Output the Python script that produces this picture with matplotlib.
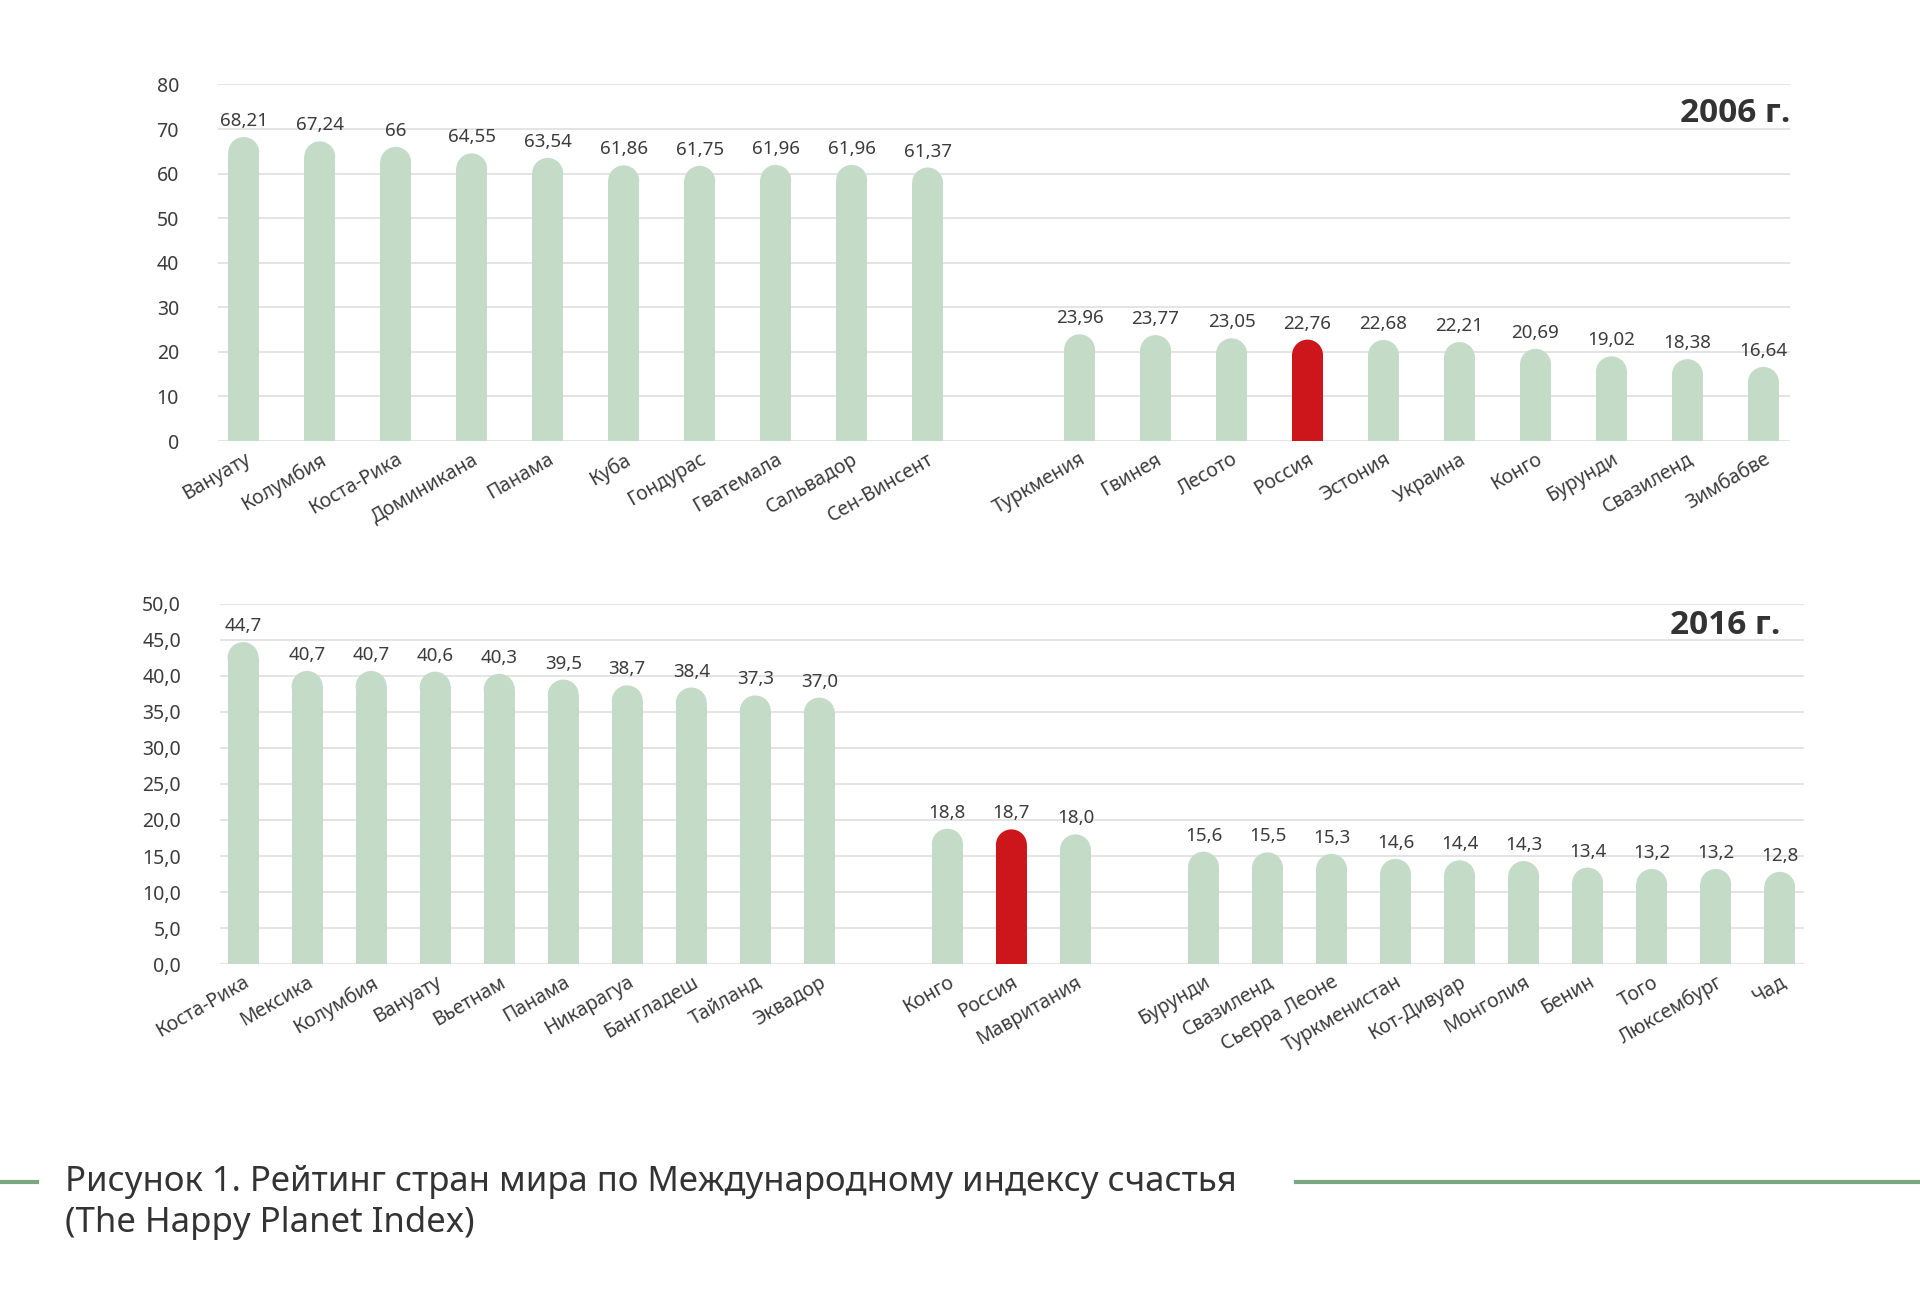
import numpy as np
import matplotlib.pyplot as plt
from matplotlib.patches import Ellipse
from matplotlib.lines import Line2D
from matplotlib.transforms import ScaledTranslation

plt.rcParams['font.family'] = ['Noto Sans', 'DejaVu Sans']

# 2006 г.
best06_names = ['Вануату', 'Колумбия', 'Коста-Рика', 'Доминикана', 'Панама',
                'Куба', 'Гондурас', 'Гватемала', 'Сальвадор', 'Сен-Винсент']
best06_vals = [68.21, 67.24, 66, 64.55, 63.54, 61.86, 61.75, 61.96, 61.96, 61.37]
worst06_names = ['Туркмения', 'Гвинея', 'Лесото', 'Россия', 'Эстония',
                 'Украина', 'Конго', 'Бурунди', 'Свазиленд', 'Зимбабве']
worst06_vals = [23.96, 23.77, 23.05, 22.76, 22.68, 22.21, 20.69, 19.02, 18.38, 16.64]

# 2016 г.
best16_names = ['Коста-Рика', 'Мексика', 'Колумбия', 'Вануату', 'Вьетнам',
                'Панама', 'Никарагуа', 'Бангладеш', 'Тайланд', 'Эквадор']
best16_vals = [44.7, 40.7, 40.7, 40.6, 40.3, 39.5, 38.7, 38.4, 37.3, 37.0]
mid16_names = ['Конго', 'Россия', 'Мавритания']
mid16_vals = [18.8, 18.7, 18.0]
worst16_names = ['Бурунди', 'Свазиленд', 'Сьерра Леоне', 'Туркменистан', 'Кот-Дивуар',
                 'Монголия', 'Бенин', 'Того', 'Люксембург', 'Чад']
worst16_vals = [15.6, 15.5, 15.3, 14.6, 14.4, 14.3, 13.4, 13.2, 13.2, 12.8]

GREEN = '#c4dcc7'
RED = '#cd161c'
TEXT = '#3c3c3c'
GRID = '#e2e2e2'
BAR_PX = 31


def slots(groups):
    # позиции столбцов: между группами пропускаем один слот
    pos, start = [], 0
    for g in groups:
        pos += list(range(start, start + len(g)))
        start += len(g) + 1
    return np.array(pos)


def draw_panel(ax, groups_names, groups_vals, ylim, yticks, ytick_fmt, val_fmt, xlim,
               year, year_xy):
    names = sum(groups_names, [])
    vals = sum(groups_vals, [])
    x = slots(groups_names)
    ax.set_xlim(*xlim)
    ax.set_ylim(*ylim)

    bbox = ax.get_window_extent()
    w = BAR_PX * (xlim[1] - xlim[0]) / bbox.width
    r = BAR_PX / 2 * (ylim[1] - ylim[0]) / bbox.height

    for xi, v, n in zip(x, vals, names):
        c = RED if n == 'Россия' else GREEN
        ax.bar(xi, v - r, width=w, color=c, linewidth=0, zorder=2)
        ax.add_patch(Ellipse((xi, v - r), w, 2 * r, facecolor=c, linewidth=0, zorder=2))
        ax.annotate(val_fmt(v), (xi, v), xytext=(0, 5), textcoords='offset points',
                    ha='center', va='bottom', fontsize=13.5, color=TEXT)

    ax.set_yticks(yticks)
    ax.set_yticklabels([ytick_fmt(t) for t in yticks])
    ax.set_xticks(x)
    ax.set_xticklabels(names, rotation=30, ha='right', rotation_mode='anchor')
    shift = ScaledTranslation(0.08, 0, ax.figure.dpi_scale_trans)
    for lab in ax.get_xticklabels():
        lab.set_transform(lab.get_transform() + shift)
    ax.tick_params(axis='both', length=0, labelsize=14, labelcolor=TEXT)
    ax.tick_params(axis='y', pad=28)
    ax.tick_params(axis='x', pad=6)
    for s in ax.spines.values():
        s.set_visible(False)
    ax.yaxis.grid(True, color=GRID, linewidth=1.3, zorder=0)
    ax.set_axisbelow(True)
    ax.text(*year_xy, year, transform=ax.transAxes, ha='right', va='center',
            fontsize=24, fontweight='bold', color='#333333',
            family=['Open Sans', 'Liberation Sans', 'DejaVu Sans'])


fig = plt.figure(figsize=(19.2, 12.98), dpi=100)

ax1 = fig.add_axes([0.1135, 0.6602, 0.8188, 0.2747])
draw_panel(ax1, [best06_names, worst06_names], [best06_vals, worst06_vals],
           (0, 80), list(range(0, 81, 10)), lambda t: f'{t}',
           lambda v: f'{v:g}'.replace('.', ','), (-0.34, 20.35), '2006 г.', (1.0, 0.92))

ax2 = fig.add_axes([0.1146, 0.2573, 0.825, 0.2774])
draw_panel(ax2, [best16_names, mid16_names, worst16_names],
           [best16_vals, mid16_vals, worst16_vals],
           (0, 50), list(range(0, 51, 5)), lambda t: f'{t:.1f}'.replace('.', ','),
           lambda v: f'{v:.1f}'.replace('.', ','), (-0.36, 24.38), '2016 г.', (0.985, 0.94))

# подпись рисунка
fig.text(0.034, 0.0894, 'Рисунок 1. Рейтинг стран мира по Международному индексу счастья',
         fontsize=25, color='#333333', va='center')
fig.text(0.034, 0.0578, '(The Happy Planet Index)', fontsize=25, color='#333333', va='center')
fig.add_artist(Line2D([0, 0.0193], [0.0894, 0.0894], transform=fig.transFigure,
                      color='#7aa77f', linewidth=3))
fig.add_artist(Line2D([0.675, 1.0], [0.0894, 0.0894], transform=fig.transFigure,
                      color='#7aa77f', linewidth=3))

fig.savefig('out.png', dpi=100, facecolor='white')
